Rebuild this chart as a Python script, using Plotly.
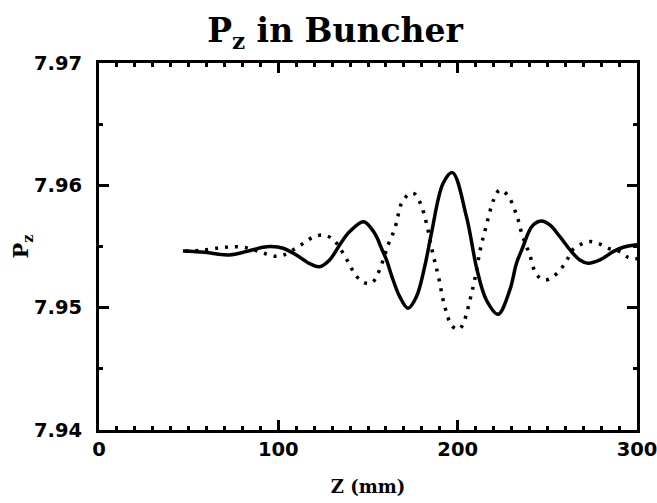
import plotly.graph_objects as go

# Solid curve
z_solid = [46.8, 58.9, 65, 72.8, 82.1, 91.4, 96, 102.6, 110, 117.5, 123, 128.6, 134.2,
           139.8, 147.6, 153.7, 157.5, 160.3, 164, 167.7, 172.3, 177, 181.6, 185.4,
           191.9, 197.1, 204.9, 210.8, 216, 222.5, 229.1, 232.8, 236.5, 239.3, 242.1,
           246.8, 251.4, 257, 263.5, 268.1, 272.8, 279.3, 286.7, 292.3, 298.8, 300]
pz_solid = [7.95464, 7.95453, 7.95440, 7.95431, 7.95458, 7.95494, 7.95500, 7.95486,
            7.95431, 7.95360, 7.95335, 7.95390, 7.95513, 7.95622, 7.95703, 7.95608,
            7.95486, 7.95390, 7.95226, 7.95090, 7.94995, 7.95090, 7.95335, 7.95610,
            7.96017, 7.96104, 7.95744, 7.95310, 7.95063, 7.94946, 7.95145, 7.95363,
            7.95500, 7.95608, 7.95676, 7.95709, 7.95676, 7.95580, 7.95458, 7.95390,
            7.95363, 7.95390, 7.95458, 7.95494, 7.95513, 7.95514]

# Dotted curve
z_dot = [48, 59, 68, 75, 82, 88, 93, 98, 103, 109, 114.7, 119.3, 124.9, 130.3, 133.8,
         137, 139.8, 142.6, 147.2, 151.9, 155.6, 159.3, 161.2, 163.6, 165.8, 168.6,
         172.8, 174.2, 176, 179.2, 182.6, 186.3, 189.1, 192.8, 196.9, 200.8, 203.6,
         206.8, 209.5, 212.7, 215.5, 220.3, 223.5, 227.8, 232.8, 236, 240.2, 244,
         248.6, 253.2, 257.9, 261, 264, 268.1, 273.7, 279.3, 284.9, 290.5, 295, 300]
pz_dot = [7.95462, 7.95472, 7.95490, 7.95498, 7.95490, 7.95465, 7.95440, 7.95420,
          7.95430, 7.95480, 7.95533, 7.95576, 7.95594, 7.95562, 7.95499, 7.95423,
          7.95350, 7.95276, 7.95208, 7.95200, 7.95280, 7.95430, 7.95513, 7.95594,
          7.95690, 7.95850, 7.95930, 7.95935, 7.95930, 7.95854, 7.95690, 7.95431,
          7.95267, 7.95010, 7.94850, 7.94823, 7.94890, 7.95060, 7.95230, 7.95480,
          7.95644, 7.95890, 7.95962, 7.95920, 7.95760, 7.95594, 7.95430, 7.95270,
          7.95226, 7.95254, 7.95322, 7.95390, 7.95472, 7.95513, 7.95540, 7.95520,
          7.95480, 7.95458, 7.95412, 7.95400]

x_range = [0, 300]
y_range = [7.94, 7.97]
x_major, x_minor = 100, 10
y_major, y_minor = 0.01, 0.005

fig = go.Figure()
fig.add_trace(go.Scatter(x=z_dot, y=pz_dot, mode="lines",
                         line=dict(color="black", width=3.5, dash="3px,7px",
                                   shape="spline", smoothing=1.0),
                         showlegend=False))
fig.add_trace(go.Scatter(x=z_solid, y=pz_solid, mode="lines",
                         line=dict(color="black", width=3.5, shape="spline", smoothing=1.0),
                         showlegend=False))

tick_font = dict(family="DejaVu Sans", size=19.5, color="black", weight="bold")
serif = "DejaVu Serif"

fig.update_layout(
    width=657, height=503,
    margin=dict(l=99, r=20, t=63, b=73),
    paper_bgcolor="white", plot_bgcolor="white",
    title=dict(text="P<sub>z</sub> in Buncher", x=0.51, xanchor="center",
               y=0.94, yanchor="middle",
               font=dict(family=serif, size=33, color="black", weight="bold")),
    xaxis=dict(range=x_range, tickmode="linear", tick0=0, dtick=x_major,
               tickformat="d", automargin=False,
               ticks="inside", ticklen=10, tickwidth=2.5, tickcolor="black",
               minor=dict(tickmode="linear", tick0=0, dtick=x_minor, ticks="inside",
                          ticklen=4, tickwidth=2.5, tickcolor="black", showgrid=False),
               showline=True, linewidth=3, linecolor="black", mirror="allticks",
               showgrid=False, zeroline=False, tickfont=tick_font,
               ticklabelstandoff=0, ticklabeloverflow="allow",
               title=dict(text="Z (mm)", standoff=20,
                          font=dict(family=serif, size=18, color="black", weight="bold"))),
    yaxis=dict(range=y_range, tickmode="linear", tick0=7.94, dtick=y_major,
               tickformat=".2f", automargin=False,
               ticks="inside", ticklen=10, tickwidth=2.5, tickcolor="black",
               minor=dict(tickmode="linear", tick0=7.94, dtick=y_minor, ticks="inside",
                          ticklen=4, tickwidth=2.5, tickcolor="black", showgrid=False),
               showline=True, linewidth=3, linecolor="black", mirror="allticks",
               showgrid=False, zeroline=False, tickfont=tick_font,
               ticklabelstandoff=10,
               title=dict(text="P<sub>z</sub>", standoff=0,
                          font=dict(family=serif, size=21, color="black", weight="bold"))),
)

fig.write_html("out.html")
